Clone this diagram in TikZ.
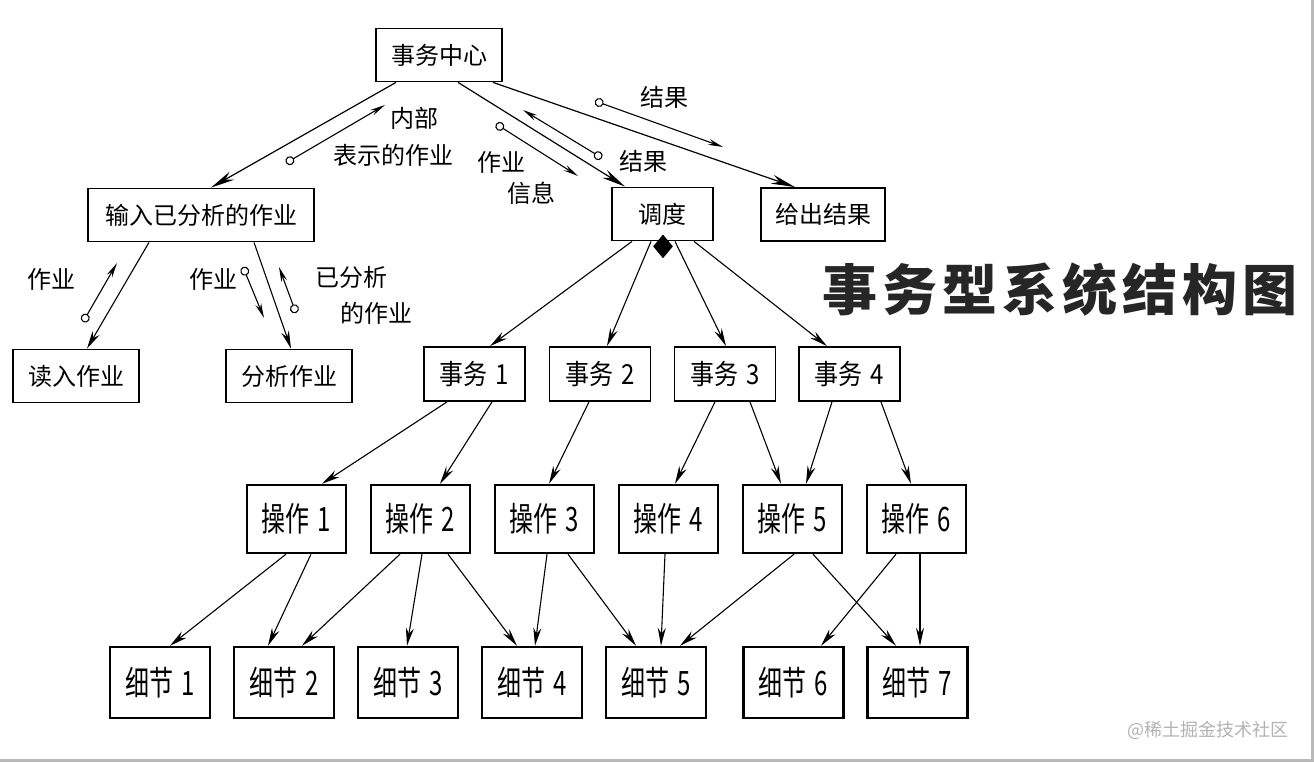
\documentclass[tikz,border=0pt]{standalone}
\usepackage{fontspec}
\usepackage{graphicx}
\newfontfamily\cjk{Noto Sans CJK SC}
\newfontfamily\titlecjk[LetterSpace=9]{Noto Sans CJK SC}
\usetikzlibrary{arrows.meta,calc,shapes.geometric}
\newcommand{\tallbox}[2]{\scalebox{1}[#1]{#2}}

\begin{document}
\begin{tikzpicture}[x=0.5pt, y=-0.5pt,
  upbox/.style={draw, line width=0.9pt, inner sep=0pt, minimum height=26.5pt, font=\cjk\fontsize{12}{14}\selectfont},
  trbox/.style={draw, line width=0.9pt, inner sep=0pt, minimum width=50.5pt, minimum height=27pt, font=\cjk\fontsize{12}{14}\selectfont},
  opbox/.style={draw, line width=1.2pt, inner sep=0pt, minimum width=49.5pt, minimum height=34pt, font=\cjk\fontsize{12}{14}\selectfont},
  dtbox/.style={draw, line width=1.2pt, inner sep=0pt, minimum width=50pt, minimum height=35.5pt, font=\cjk\fontsize{12}{14}\selectfont},
  lbl/.style={inner sep=0pt, font=\cjk\fontsize{12}{14}\selectfont},
  bigflow/.style={-{Stealth[length=12pt, width=4.6pt]}, line width=0.6pt},
  flow/.style={-{Stealth[length=9pt, width=4pt]}, line width=0.55pt},
  couple/.style={{Circle[open, length=4.5pt]}-{Stealth[length=7.5pt, width=3pt]}, line width=0.55pt},
]
\useasboundingbox (0,0) rectangle (1314,763);
\draw[gray!55, line width=1.5pt] (0,761) -- (1312,761) -- (1312,0);

% upper part
\node[upbox, minimum width=63pt] (ctr) at (439,55) {事务中心};
\node[upbox, minimum width=113pt] (inp) at (201,215) {输入已分析的作业};
\node[upbox, minimum width=63pt] (rd) at (76,376) {读入作业};
\node[upbox, minimum width=63pt] (an) at (289,376) {分析作业};
\node[upbox, minimum width=50.5pt] (disp) at (662.5,214) {调度};
\node[upbox, minimum width=62pt] (out) at (823,214.5) {给出结果};

\node[font=\titlecjk\bfseries\fontsize{27.5}{30}\selectfont, text=black!85] (title) at (1060,290) {事务型系统结构图};

% transaction, operation and detail rows
\foreach \i/\x in {1/474.5,2/600,3/725,4/849.5}
  \node[trbox] (tr\i) at (\x,374) {\tallbox{1.15}{事务\hspace{4pt}\i}};
\foreach \i in {1,...,6}
  \node[opbox] (op\i) at ({296.5+124*(\i-1)},519) {\tallbox{1.4}{操作\hspace{4pt}\i}};
\foreach \i/\x in {1/160,2/284,3/408,4/532,5/656,6/793.5,7/917.5}
  \node[dtbox] (dt\i) at (\x,682.5) {\tallbox{1.4}{细节\hspace{4pt}\i}};

% calls
\foreach \a/\da/\b/\db in {ctr/-43/inp/10, ctr/19/disp/-37.5, ctr/54/out/-28}
  \draw[bigflow] ($(\a.south)+(\da,0)$) -- ($(\b.north)+(\db,0)$);
\foreach \a/\da/\b/\db in {inp/-52/rd/11, inp/53/an/2,
    disp/-30.5/tr1/15.5, disp/-11.5/tr2/7, disp/12.5/tr3/1, disp/31.5/tr4/-22.5,
    tr1/-27.5/op1/25.5, tr1/17.5/op2/19.5, tr2/-11/op3/4.5, tr3/-10/op4/6.5,
    tr3/25/op5/-11.5, tr4/-17.5/op5/13.5, tr4/31.5/op6/-5.5,
    op1/-10.5/dt1/10, op1/14.5/dt2/-16, op2/-20.5/dt2/18, op2/1.5/dt3/-1,
    op2/27.5/dt4/-15, op3/2.5/dt4/3, op3/23.5/dt5/-20, op4/-3.5/dt5/5,
    op5/1.5/dt5/24, op5/20.5/dt7/-21.5, op6/-20.5/dt6/27.5, op6/3.5/dt7/2.5}
  \draw[flow] ($(\a.south)+(\da,0)$) -- ($(\b.north)+(\db,0)$);

\node[diamond, fill=black, inner sep=0pt, minimum width=10pt, minimum height=12pt] (sel) at ($(disp.south)+(0.5,5)$) {};

% data couples
\foreach \n/\sx/\sy/\ex/\ey in {inner/286/163/385/105, rdjob/83/322/117/263,
    anjob/243/267/264/318, anres/296/313/279/267, info/496/124/578/176,
    dispres/602/158/523/110, outres/595/101/723/147} {
  \coordinate (\n-s) at (\sx,\sy);
  \coordinate (\n-e) at (\ex,\ey);
  \draw[couple] (\n-s) -- (\n-e);
}

\node[lbl] (l-inner1) at (414,118) {内部};
\node[lbl] (l-inner2) at (393,155) {表示的作业};
\node[lbl] (l-rdjob) at (51,279) {作业};
\node[lbl] (l-anjob) at (213,279) {作业};
\node[lbl] (l-anres1) at (351,277) {已分析};
\node[lbl] (l-anres2) at (376,313) {的作业};
\node[lbl] (l-info1) at (501,162) {作业};
\node[lbl] (l-info2) at (531,193) {信息};
\node[lbl] (l-dispres) at (643,161) {结果};
\node[lbl] (l-outres) at (664,97) {结果};

\node[font=\cjk\fontsize{9}{10}\selectfont, text=gray!60] (mark) at (1208,730) {@稀土掘金技术社区};
\end{tikzpicture}
\end{document}
